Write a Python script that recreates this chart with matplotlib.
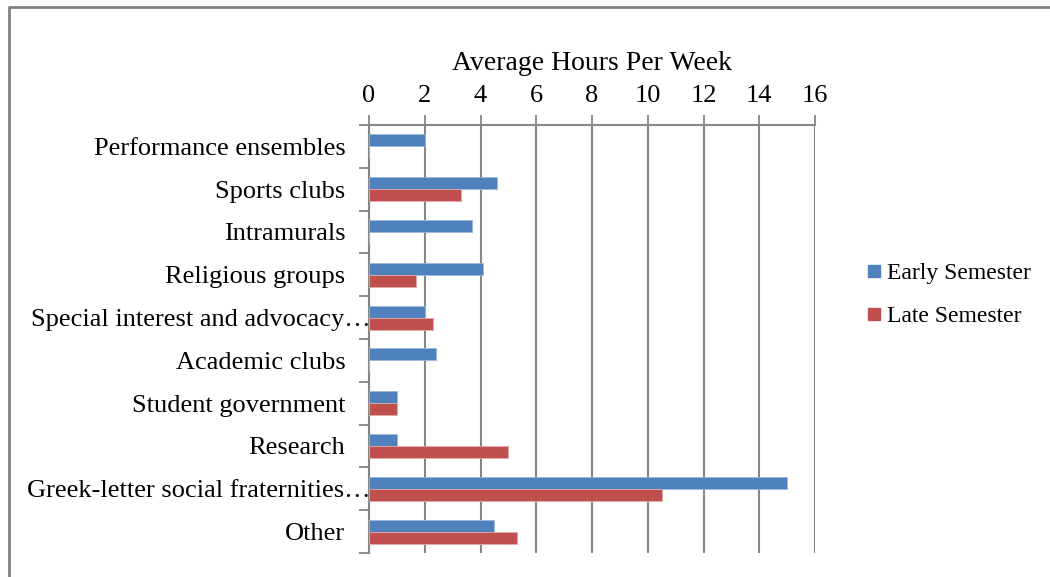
import matplotlib.pyplot as plt
import matplotlib.transforms as mtransforms
from matplotlib.lines import Line2D
import numpy as np

plt.rcParams['font.family'] = ['Liberation Serif', 'DejaVu Serif']

categories = ['Performance ensembles', 'Sports clubs', 'Intramurals', 'Religious groups',
              'Special interest and advocacy\u2026', 'Academic clubs', 'Student government',
              'Research', 'Greek-letter social fraternities\u2026', 'Other']
early = [2.0, 4.6, 3.7, 4.1, 2.0, 2.4, 1.0, 1.0, 15.0, 4.5]
late = [0, 3.3, 0, 1.7, 2.3, 0, 1.0, 5.0, 10.5, 5.3]
xticks = [0, 2, 4, 6, 8, 10, 12, 14, 16]

blue = '#4F81BD'
red = '#C0504D'
grid_c = '#868686'

fig = plt.figure(figsize=(10.5, 5.77), dpi=100)
ax = fig.add_axes([369 / 1050, 1 - 553 / 577, 446 / 1050, 428 / 577])

y = np.arange(len(categories))
h = 0.28
ax.barh(y - h / 2, early, height=h, color=blue, edgecolor='#9BB7DD', linewidth=0.6,
        label='Early Semester', zorder=3)
ax.barh(y + h / 2, late, height=h, color=red, edgecolor='#E3A9A8', linewidth=0.6,
        label='Late Semester', zorder=3)

ax.set_ylim(len(categories) - 0.5, -0.5)
ax.set_xlim(0, 16)

# value axis on top
ax.xaxis.tick_top()
ax.xaxis.set_label_position('top')
ax.set_xticks(xticks)
ax.set_xticklabels([str(v) for v in xticks], fontsize=19)
ax.set_xlabel('Average Hours Per Week', fontsize=20, labelpad=11)
ax.tick_params(axis='x', length=7, width=1.3, color=grid_c, pad=6)
ax.grid(axis='x', color=grid_c, linewidth=1.5, zorder=0)

# category ticks sit between the bands
ax.set_yticks(np.arange(len(categories) + 1) - 0.5, minor=False)
ax.set_yticklabels([])
ax.set_yticks(y, minor=True)
ax.set_yticklabels(categories, minor=True, fontsize=19)
ax.tick_params(axis='y', which='major', length=7, width=1.3, color=grid_c)
ax.tick_params(axis='y', which='minor', length=0, pad=17)

# truncated labels run up to the axis line
for lbl in ax.get_yticklabels(minor=True):
    if lbl.get_text().endswith('\u2026'):
        lbl.set_transform(lbl.get_transform() +
                          mtransforms.ScaledTranslation(25 / 100, 0, fig.dpi_scale_trans))

for side in ['right', 'bottom']:
    ax.spines[side].set_visible(False)
for side in ['top', 'left']:
    ax.spines[side].set_color(grid_c)
    ax.spines[side].set_linewidth(1.5)

handles = [Line2D([], [], marker='s', linestyle='', markersize=8, color=blue),
           Line2D([], [], marker='s', linestyle='', markersize=8, color=red)]
fig.legend(handles, ['Early Semester', 'Late Semester'], loc='center left',
           bbox_to_anchor=(841 / 1050, 1 - 295 / 577), frameon=False, fontsize=17,
           handletextpad=0.05, handlelength=1.0, labelspacing=0.9)

# outer chart frame
fig.add_artist(Line2D([9 / 1050, 9 / 1050, 1.0], [0.0, 1 - 7 / 577, 1 - 7 / 577],
                      transform=fig.transFigure, color='#808080', linewidth=2))

fig.savefig('out.png', dpi=100)
